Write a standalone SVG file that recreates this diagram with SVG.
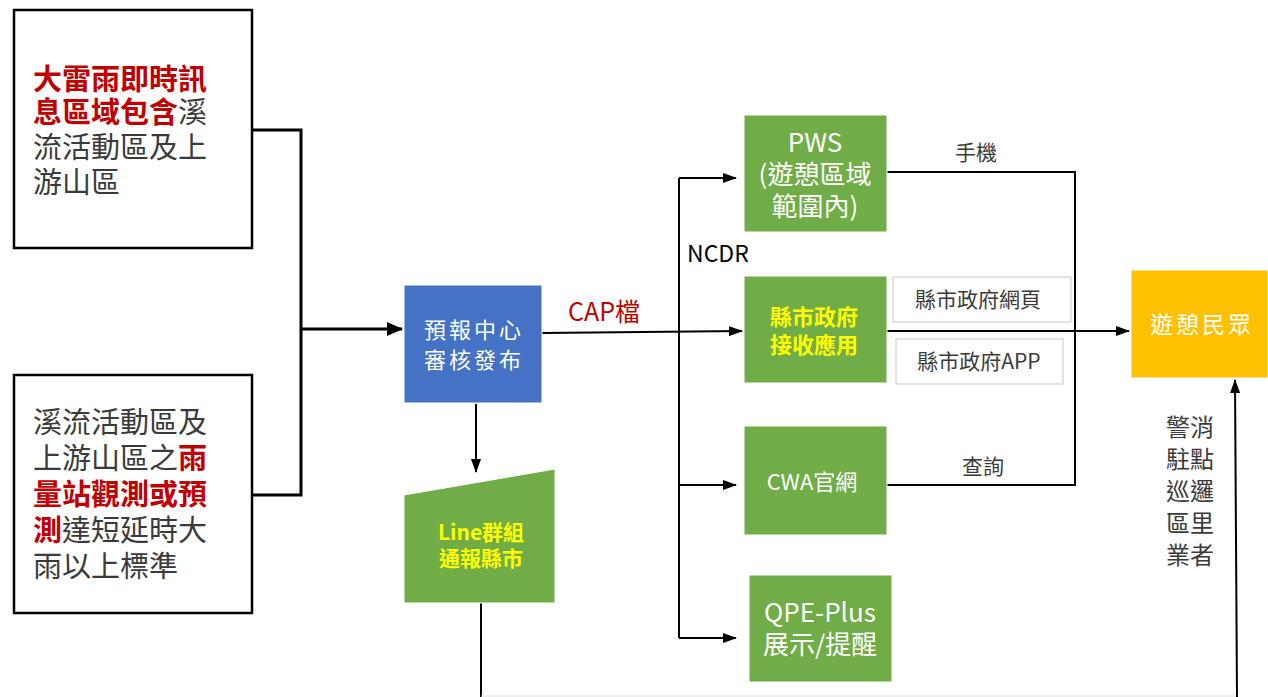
<svg xmlns="http://www.w3.org/2000/svg" width="1268" height="697" viewBox="0 0 1268 697">
<style>
.t{font-family:"Noto Sans CJK TC","Noto Sans",sans-serif}
.gray{fill:#3a3a3a}
.red{fill:#C00000;font-weight:bold}
.w{fill:#fff}
.y{fill:#FFFF00;font-weight:bold}
.green{fill:#70AD47;stroke:#fff;stroke-width:1}
.ln{stroke:#000;stroke-width:2;fill:none}
.thick{stroke:#000;stroke-width:3;fill:none}
.sbox{fill:#fff;stroke:#c8c8c8;stroke-width:1}
</style>
<defs>
<marker id="ah" markerUnits="userSpaceOnUse" markerWidth="14" markerHeight="10" refX="13" refY="5" orient="auto">
<path d="M0,0 L14,5 L0,10 Z" fill="#000"/>
</marker>
<marker id="ahb" markerUnits="userSpaceOnUse" markerWidth="16" markerHeight="14" refX="15" refY="7" orient="auto">
<path d="M0,0 L16,7 L0,14 Z" fill="#000"/>
</marker>
</defs>
<rect width="1268" height="697" fill="#fff"/>

<g id="connectors">
<polyline class="thick" points="252,130 301,130 301,495 252,495"/>
<line class="thick" x1="301" y1="329" x2="402" y2="329" marker-end="url(#ahb)"/>
<line class="ln" x1="476" y1="404" x2="476" y2="472" marker-end="url(#ah)"/>
<line class="ln" x1="542" y1="333" x2="742" y2="331" marker-end="url(#ah)"/>
<line class="ln" x1="679" y1="178" x2="679" y2="638"/>
<line class="ln" x1="679" y1="178" x2="736" y2="178" marker-end="url(#ah)"/>
<line class="ln" x1="679" y1="485" x2="736" y2="485" marker-end="url(#ah)"/>
<line class="ln" x1="679" y1="638" x2="736" y2="638" marker-end="url(#ah)"/>
<polyline class="ln" points="887,172 1075,172 1075,485 887,485"/>
<line class="ln" x1="887" y1="331" x2="1129" y2="331" marker-end="url(#ah)"/>
<line class="ln" x1="481" y1="603" x2="481" y2="697"/>
<line x1="481" y1="696" x2="1237" y2="696" stroke="#e0e0e0" stroke-width="1"/>
<line class="ln" x1="1237" y1="697" x2="1235" y2="380" marker-end="url(#ah)"/>
<text class="t" x="568" y="321" font-size="25" fill="#C00000">CAP檔</text>
<text class="t" x="687" y="262" font-size="23" fill="#000">NCDR</text>
<text class="t gray" x="955" y="160" font-size="21">手機</text>
<text class="t gray" x="962" y="474" font-size="21">查詢</text>
<text class="t gray" font-size="24"><tspan x="1166" y="436">警消</tspan><tspan x="1166" y="468">駐點</tspan><tspan x="1166" y="500">巡邏</tspan><tspan x="1166" y="532">區里</tspan><tspan x="1166" y="564">業者</tspan></text>
</g>

<g id="src1">
<rect x="14" y="10" width="238" height="238" fill="#fff" stroke="#000" stroke-width="2.5"/>
<text class="t" font-size="29"><tspan x="33" y="90" class="red">大雷雨即時訊</tspan><tspan x="33" y="123" class="red">息區域包含</tspan><tspan class="gray">溪</tspan><tspan x="33" y="158" class="gray">流活動區及上</tspan><tspan x="33" y="193" class="gray">游山區</tspan></text>
</g>

<g id="src2">
<rect x="14" y="375" width="238" height="238" fill="#fff" stroke="#000" stroke-width="2.5"/>
<text class="t" font-size="29"><tspan x="33" y="433" class="gray">溪流活動區及</tspan><tspan x="33" y="469" class="gray">上游山區之</tspan><tspan class="red">雨</tspan><tspan x="33" y="505" class="red">量站觀測或預</tspan><tspan x="33" y="541" class="red">測</tspan><tspan class="gray">達短延時大</tspan><tspan x="33" y="577" class="gray">雨以上標準</tspan></text>
</g>

<g id="center">
<rect x="404" y="285" width="138" height="118" fill="#4472C4" stroke="#fff" stroke-width="1"/>
<text class="t w" font-size="22" letter-spacing="3" text-anchor="middle"><tspan x="474" y="338">預報中心</tspan><tspan x="474" y="368">審核發布</tspan></text>
</g>

<g id="line-group">
<polygon class="green" points="404,495 555,469 555,603 404,603"/>
<text class="t y" font-size="21" text-anchor="middle"><tspan x="481" y="540">Line群組</tspan><tspan x="481" y="566">通報縣市</tspan></text>
</g>

<g id="pws">
<rect class="green" x="744" y="115" width="143" height="117"/>
<text class="t w" font-size="26" text-anchor="middle"><tspan x="815" y="152">PWS</tspan><tspan x="815" y="184">(遊憩區域</tspan><tspan x="815" y="216">範圍內)</tspan></text>
</g>

<g id="county">
<rect class="green" x="744" y="276" width="143" height="107"/>
<text class="t y" font-size="22" text-anchor="middle"><tspan x="814" y="325">縣市政府</tspan><tspan x="814" y="353">接收應用</tspan></text>
</g>

<g id="county-web">
<rect class="sbox" x="893" y="277" width="178" height="45"/>
<text class="t gray" x="978" y="307" font-size="21" text-anchor="middle">縣市政府網頁</text>
</g>

<g id="county-app">
<rect class="sbox" x="896" y="339" width="167" height="45"/>
<text class="t gray" x="979" y="369" font-size="21" text-anchor="middle">縣市政府APP</text>
</g>

<g id="cwa">
<rect class="green" x="744" y="426" width="143" height="109"/>
<text class="t w" x="812" y="490" font-size="22" text-anchor="middle">CWA官網</text>
</g>

<g id="qpe">
<rect class="green" x="749" y="575" width="143" height="107"/>
<text class="t w" font-size="26" text-anchor="middle"><tspan x="820" y="622">QPE-Plus</tspan><tspan x="820" y="654">展示/提醒</tspan></text>
</g>

<g id="public">
<rect x="1131" y="270" width="137" height="108" fill="#FFC000" stroke="#fff" stroke-width="1"/>
<text class="t w" x="1202" y="333" font-size="23" letter-spacing="3" text-anchor="middle">遊憩民眾</text>
</g>
</svg>
